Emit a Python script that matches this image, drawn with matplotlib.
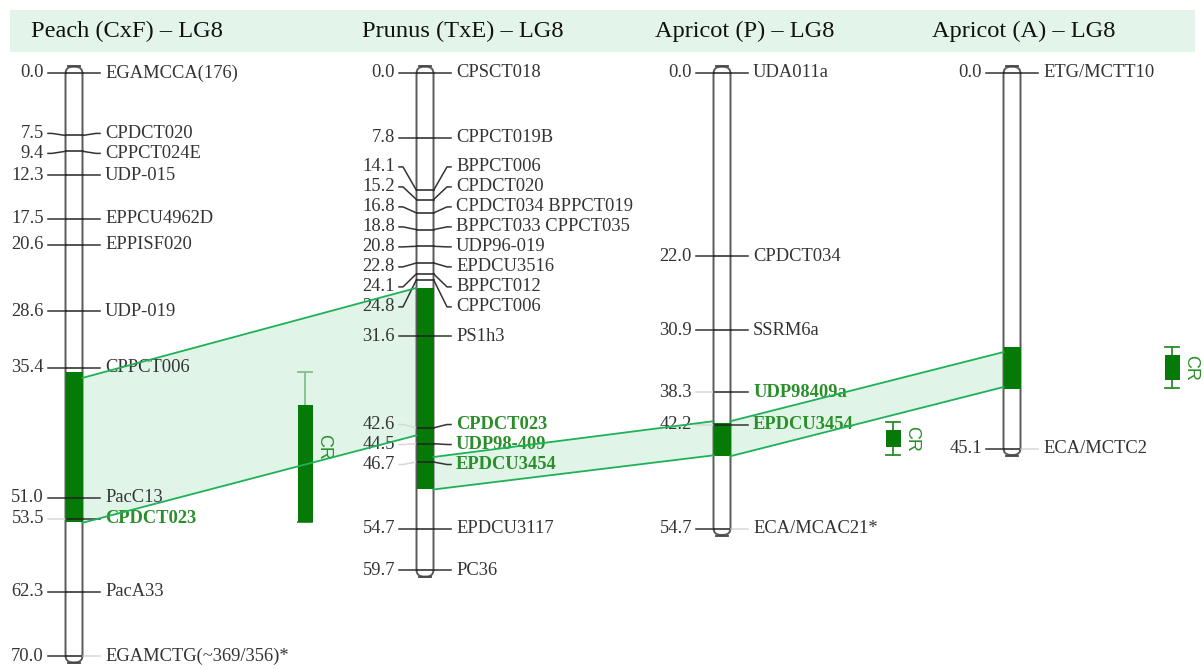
import numpy as np
import matplotlib
matplotlib.use("Agg")
import matplotlib.pyplot as plt
from matplotlib.patches import FancyBboxPatch, Rectangle, Polygon

# linkage groups: marker positions (cM) and names
peach_pos = [0.0, 7.5, 9.4, 12.3, 17.5, 20.6, 28.6, 35.4, 51.0, 53.5, 62.3, 70.0]
peach_names = ["EGAMCCA(176)", "CPDCT020", "CPPCT024E", "UDP-015", "EPPCU4962D",
               "EPPISF020", "UDP-019", "CPPCT006", "PacC13", "CPDCT023", "PacA33",
               "EGAMCTG(~369/356)*"]

prunus_pos = [0.0, 7.8, 14.1, 15.2, 16.8, 18.8, 20.8, 22.8, 24.1, 24.8, 31.6,
              42.6, 44.5, 46.7, 54.7, 59.7]
prunus_names = ["CPSCT018", "CPPCT019B", "BPPCT006", "CPDCT020", "CPDCT034 BPPCT019",
                "BPPCT033 CPPCT035", "UDP96-019", "EPDCU3516", "BPPCT012", "CPPCT006",
                "PS1h3", "CPDCT023", "UDP98-409", "EPDCU3454", "EPDCU3117", "PC36"]

apricot_p_pos = [0.0, 22.0, 30.9, 38.3, 42.2, 54.7]
apricot_p_names = ["UDA011a", "CPDCT034", "SSRM6a", "UDP98409a", "EPDCU3454", "ECA/MCAC21*"]

apricot_a_pos = [0.0, 45.1]
apricot_a_names = ["ETG/MCTT10", "ECA/MCTC2"]

titles = ["Peach (CxF) – LG8", "Prunus (TxE) – LG8", "Apricot (P) – LG8", "Apricot (A) – LG8"]

# QTL region drawn on each group (cM)
qtl_blocks = [(35.9, 53.9), (25.8, 49.9), (42.0, 46.0), (32.9, 37.9)]

# CR intervals: box span, whisker span (cM)
cr_box = [(39.9, 53.9), (42.9, 44.9), (33.9, 36.9)]
cr_whisk = [(35.9, 53.9), (41.9, 45.9), (32.9, 37.8)]

# shaded links between neighbouring groups (cM at left / right end)
link_pairs = [(0, 1), (1, 2), (2, 3)]
link_left = [(36.6, 54.0), (46.1, 50.0), (41.8, 46.0)]
link_right = [(25.8, 43.5), (41.8, 45.9), (33.5, 37.7)]

highlight = {"CPDCT023", "UDP98-409", "EPDCU3454", "UDP98409a"}
faint_right = {"EGAMCTG(~369/356)*", "ECA/MCAC21*", "ECA/MCTC2"}

groups = [(peach_pos, peach_names), (prunus_pos, prunus_names),
          (apricot_p_pos, apricot_p_names), (apricot_a_pos, apricot_a_names)]

# layout (pixels)
W, H = 1204, 669
PX_CM = 8.33
TOP = 73
HALF = 8.5
chrom_x = [74, 425, 722, 1012]
title_x = [127, 463, 745, 1024]
cr_x = [305, 893, 1172]
LABEL_GAP = 2.4   # min label spacing in cM

GREY = "#333333"
DARK_GREEN = "#067a06"
TEXT_GREEN = "#2a8f2a"
LINK_GREEN = "#1fb158"
SERIF = "Liberation Serif"


def spread(pos, gap):
    # push crowded labels apart, each cluster centred on its mean
    clusters = [[p] for p in pos]
    merged = True
    while merged:
        merged = False
        placed = []
        for c in clusters:
            start = np.mean(c) - gap * (len(c) - 1) / 2
            placed.append([start + i * gap for i in range(len(c))])
        for i in range(len(clusters) - 1):
            if placed[i + 1][0] < placed[i][-1] + gap - 1e-9:
                clusters[i] = clusters[i] + clusters[i + 1]
                del clusters[i + 1]
                merged = True
                break
    out = []
    for c in clusters:
        start = np.mean(c) - gap * (len(c) - 1) / 2
        out += [start + i * gap for i in range(len(c))]
    return out


fig = plt.figure(figsize=(W / 100, H / 100), dpi=100)
ax = fig.add_axes([0, 0, 1, 1])
ax.set_xlim(0, W)
ax.set_ylim((H - TOP) / PX_CM, -TOP / PX_CM)
ax.axis("off")

# header band
ax.add_patch(Rectangle((10, (10 - TOP) / PX_CM), 1185, 42 / PX_CM,
                       facecolor="#e3f4ea", edgecolor="none", zorder=0))
for tx, t in zip(title_x, titles):
    ax.text(tx, (31 - TOP) / PX_CM, t, ha="center", va="center",
            fontsize=17.6, family=SERIF, color="#111111")

# links between groups
for (a, b), (l0, l1), (r0, r1) in zip(link_pairs, link_left, link_right):
    xl = chrom_x[a] + HALF
    xr = chrom_x[b] - HALF
    ax.add_patch(Polygon([(xl, l0), (xr, r0), (xr, r1), (xl, l1)], closed=True,
                         facecolor="#c8ebd5", alpha=0.55, edgecolor="none", zorder=1))
    ax.plot([xl, xr], [l0, r0], color=LINK_GREEN, lw=1.3, zorder=6)
    ax.plot([xl, xr], [l1, r1], color=LINK_GREEN, lw=1.3, zorder=6)

# chromosomes with markers
for gi, (pos, names) in enumerate(groups):
    c = chrom_x[gi]
    length = pos[-1]
    ax.add_patch(FancyBboxPatch((c - HALF, -0.75), 2 * HALF, length + 1.5,
                                boxstyle="round,pad=0,rounding_size=7",
                                mutation_aspect=1 / PX_CM,
                                facecolor="white", edgecolor="#5a5a5a", lw=1.4, zorder=2))
    for yy in (-0.85, length + 0.85):
        ax.plot([c - 6, c + 6], [yy, yy], color="#444444", lw=1.3, zorder=3)

    lo, hi = qtl_blocks[gi]
    ax.add_patch(Rectangle((c - HALF, lo), 2 * HALF, hi - lo,
                           facecolor=DARK_GREEN, edgecolor="none", zorder=3))

    label_y = spread(pos, LABEL_GAP)
    for ty, ly, name in zip(pos, label_y, names):
        hl = name in highlight
        left_col = "#d8d8d8" if hl else "#333333"
        right_col = "#d8d8d8" if name in faint_right else "#333333"
        ax.plot([c - 26, c - 22, c - HALF], [ly, ly, ty], color=left_col, lw=1.1, zorder=4)
        ax.plot([c - HALF, c + HALF], [ty, ty], color="#222222", lw=1.1, zorder=4)
        ax.plot([c + HALF, c + 22, c + 26], [ty, ly, ly], color=right_col, lw=1.1, zorder=4)
        ax.text(c - 30, ly, f"{ty:.1f}", ha="right", va="center",
                fontsize=13.3, family=SERIF, color=GREY, zorder=3)
        ax.text(c + 31, ly, name, ha="left", va="center", fontsize=13.3, family=SERIF,
                color=TEXT_GREEN if hl else GREY,
                fontweight="bold" if hl else "normal", zorder=3)

# CR intervals
for cx, (b0, b1), (w0, w1) in zip(cr_x, cr_box, cr_whisk):
    ax.plot([cx, cx], [w0, w1], color=TEXT_GREEN, lw=1.3, zorder=0.5)
    for yy in (w0, w1):
        ax.plot([cx - 7, cx + 7], [yy, yy], color=TEXT_GREEN, lw=1.3, zorder=0.5)
    ax.add_patch(Rectangle((cx - 7.5, b0), 15, b1 - b0,
                           facecolor=DARK_GREEN, edgecolor="none", zorder=4))
    ax.text(cx + 19, (w0 + w1) / 2, "CR", rotation=-90, ha="center", va="center",
            fontsize=13, family="Liberation Sans", color=TEXT_GREEN, zorder=5)

fig.savefig("out.png", dpi=100)
